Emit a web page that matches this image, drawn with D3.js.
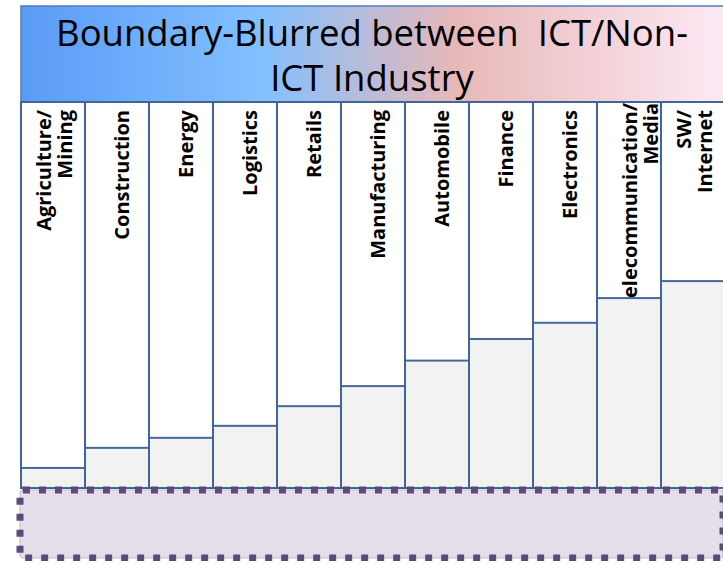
<!DOCTYPE html>
<html>
<head>
<meta charset="utf-8">
<script src="https://cdn.jsdelivr.net/npm/d3@7"></script>
<style>
  html, body { margin: 0; padding: 0; background: #ffffff; }
  svg { display: block; }
  text { font-family: "Open Sans", "Noto Sans", sans-serif; }
</style>
</head>
<body>
<svg id="chart" width="723" height="561"></svg>
<script>
// ---- data ----
const titleLines = ["Boundary-Blurred between  ICT/Non-", "ICT Industry"];
const categories = ["Agriculture/Mining", "Construction", "Energy", "Logistics", "Retails",
  "Manufacturing", "Automobile", "Finance", "Electronics", "Telecommunication/Media", "SW/Internet"];
const labelLines = [["Agriculture/", "Mining"], ["Construction"], ["Energy"], ["Logistics"], ["Retails"],
  ["Manufacturing"], ["Automobile"], ["Finance"], ["Electronics"], ["elecommunication/", "Media"], ["SW/", "Internet"]];
const values = [5.2, 10.4, 13.0, 16.1, 21.2, 26.4, 33.0, 38.6, 42.8, 49.2, 53.6];
const yDomain = [0, 100];

// ---- layout ----
const svg = d3.select("#chart");
const plotLeft = 21, colW = 64, plotTop = 102, plotBottom = 488;

const x = d3.scaleBand().domain(categories).range([plotLeft, plotLeft + colW * categories.length]).padding(0);
const y = d3.scaleLinear().domain(yDomain).range([plotBottom, plotTop]);

// gradient for title box
const defs = svg.append("defs");
const grad = defs.append("linearGradient").attr("id", "titleGrad")
  .attr("x1", "0%").attr("x2", "100%").attr("y1", "0%").attr("y2", "0%");
[["0%", "#5a9bf6"], ["34%", "#82c0ff"], ["62%", "#e8b8b8"], ["100%", "#fde9f4"]].forEach(([o, c]) =>
  grad.append("stop").attr("offset", o).attr("stop-color", c));

// title box
svg.append("rect").attr("x", plotLeft).attr("y", 6).attr("width", 703).attr("height", plotTop - 6)
  .attr("fill", "url(#titleGrad)").attr("stroke", "#4f7dbb").attr("stroke-width", 1.5);
svg.append("text").attr("x", 372).attr("y", 46).attr("text-anchor", "middle")
  .attr("font-size", 36.5).attr("fill", "#000").style("white-space", "pre")
  .selectAll("tspan").data(titleLines).join("tspan")
  .attr("x", 372).attr("dy", (d, i) => i === 0 ? 0 : 45).text(d => d);

// column background (white)
svg.append("g").selectAll("rect").data(categories).join("rect")
  .attr("x", d => x(d)).attr("y", plotTop).attr("width", x.bandwidth()).attr("height", plotBottom - plotTop)
  .attr("fill", "#ffffff");

// bars
svg.append("g").selectAll("rect").data(values).join("rect")
  .attr("x", (d, i) => x(categories[i])).attr("y", d => y(d))
  .attr("width", x.bandwidth()).attr("height", d => plotBottom - y(d))
  .attr("fill", "#f2f2f2").attr("stroke", "#45699a").attr("stroke-width", 2);

// column outlines
svg.append("g").selectAll("rect").data(categories).join("rect")
  .attr("x", d => x(d)).attr("y", plotTop).attr("width", x.bandwidth()).attr("height", plotBottom - plotTop)
  .attr("fill", "none").attr("stroke", "#3f6696").attr("stroke-width", 2);

// rotated labels
const lg = svg.append("g");
labelLines.forEach((lines, i) => {
  const cx = x(categories[i]) + x.bandwidth() / 2;
  const base = lines.length === 1 ? [cx + 12] : [cx - 2, cx + 19];
  const nodes = lines.map((t, j) => lg.append("text")
      .attr("transform", `translate(${base[j]},110) rotate(-90)`)
      .attr("text-anchor", "end").attr("font-size", 20).attr("font-weight", "bold")
      .attr("fill", "#000").text(t));
  // overflowing labels are pushed to the top edge of the column
  const maxLen = d3.max(nodes, n => n.node().getComputedTextLength());
  if (maxLen > 170) {
    nodes.forEach((n, j) => n.attr("transform", `translate(${base[j] + 10},${plotTop + 1}) rotate(-90)`));
  }
});

// dotted box
svg.append("rect").attr("x", 20).attr("y", 490).attr("width", 703).attr("height", 68)
  .attr("rx", 3).attr("fill", "#e5dfec").attr("stroke", "#b8bccf").attr("stroke-width", 1);
svg.append("rect").attr("x", 20).attr("y", 490).attr("width", 703).attr("height", 68)
  .attr("rx", 3).attr("fill", "none").attr("stroke", "#5f497a").attr("stroke-width", 7)
  .attr("stroke-dasharray", "7 9");
</script>
</body>
</html>
